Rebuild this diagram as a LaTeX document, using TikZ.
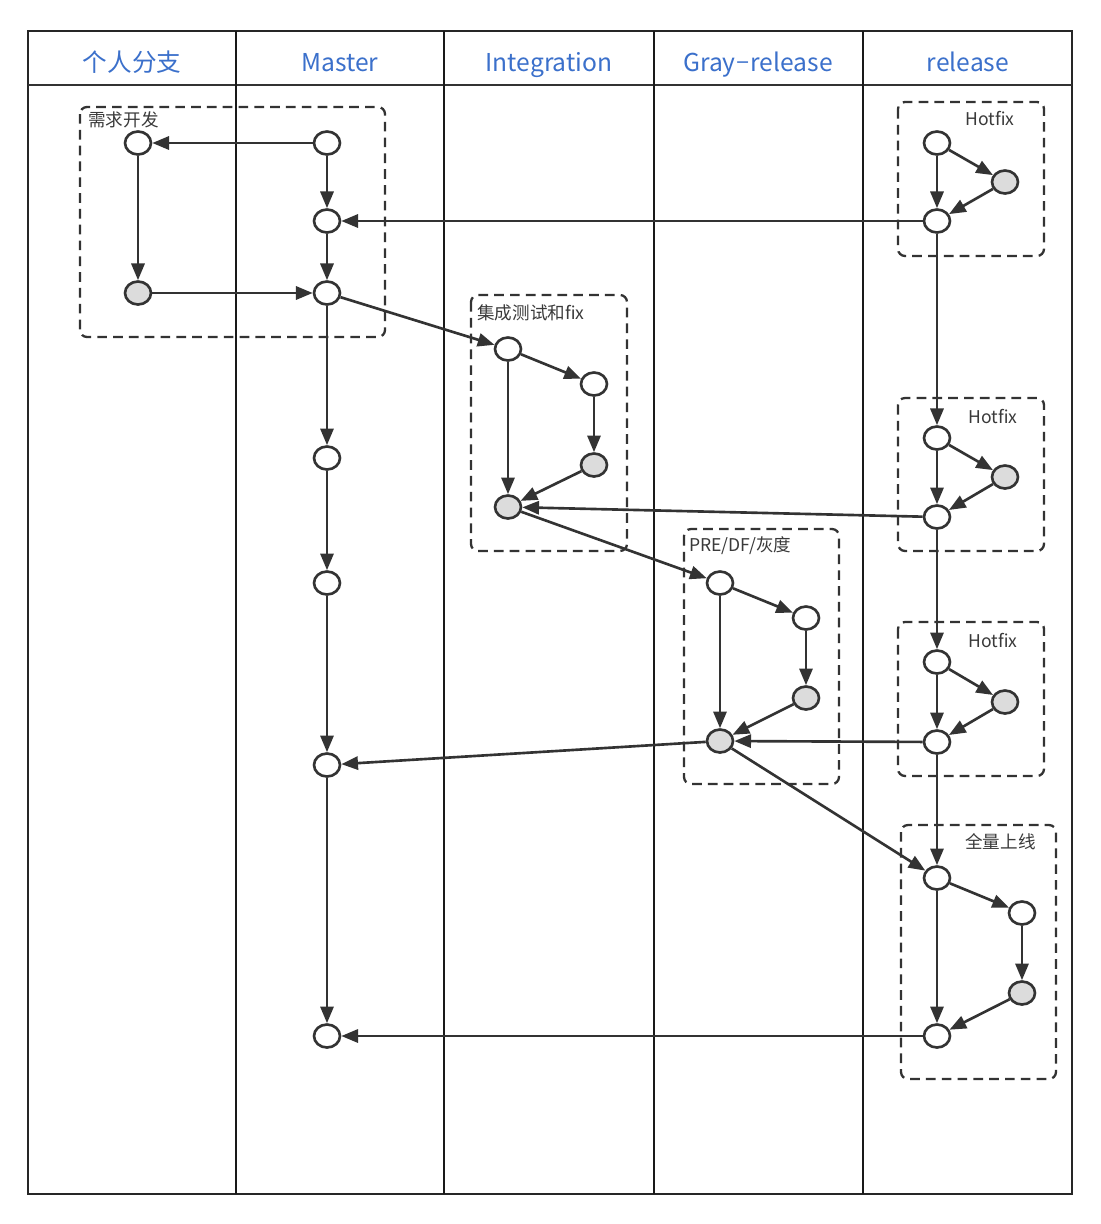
\documentclass[tikz,border=0pt]{standalone}
\usepackage{fontspec}
\newfontfamily\cjk{Noto Sans CJK SC}
\usepackage{xcolor}
\usepackage{tikz}
\usetikzlibrary{arrows.meta}
\usetikzlibrary{shapes.geometric}
\definecolor{headblue}{HTML}{3B70CB}
\definecolor{linegray}{HTML}{333333}
\definecolor{commitgray}{HTML}{DCDCDC}
\definecolor{labelgray}{HTML}{3A3A3A}
\tikzset{
  commit/.style={ellipse,draw=linegray,line width=1.5pt,fill=white,
    minimum width=0.52cm,minimum height=0.46cm,inner sep=0pt},
  fixed/.style={commit,fill=commitgray},
  flow/.style={draw=linegray,line width=1.5pt,-{Triangle[length=9.5pt,width=7.5pt]}},
  stagebox/.style={draw=linegray,line width=1.3pt,dash pattern=on 5.5pt off 3.5pt,rounded corners=4pt},
  stagelabel/.style={inner sep=0pt,font=\cjk\fontsize{10}{11}\selectfont,text=labelgray},
  lanehead/.style={inner sep=0pt,anchor=base,font=\cjk\fontsize{14}{15}\selectfont,text=headblue}
}
\begin{document}
\begin{tikzpicture}[x=0.02cm,y=-0.02cm]
 \fill[white] (0,0) rectangle (1100,1224);
 \useasboundingbox (0,0) rectangle (1100,1224);

 % lanes
 \draw[line width=0.9pt,black!85] (28,31) rectangle (1072,1194);
 \draw[line width=0.8pt,black!80] (28,85)--(1072,85);
 \foreach \x in {236,444,654,863}
  \draw[line width=1.2pt,black!90] (\x,31)--(\x,1194);
 \node at (132,71) [lanehead] (h1) {个人分支};
 \node at (340,71) [lanehead] (h2) {Master};
 \node at (549,71) [lanehead] (h3) {Integration};
 \node at (758,71) [lanehead] (h4) {Gray{\kern0.5pt}\raisebox{0.1ex}{–}{\kern0.5pt}release};
 \node at (968,71) [lanehead] (h5) {release};

 % stages
 \draw[stagebox] (80,107) rectangle (385,337);
 \draw[stagebox] (471,295) rectangle (627,551);
 \draw[stagebox] (684,529) rectangle (839,784);
 \draw[stagebox] (898,102) rectangle (1044,256);
 \draw[stagebox] (898,398) rectangle (1044,551);
 \draw[stagebox] (898,622) rectangle (1044,776);
 \draw[stagebox] (901,825) rectangle (1056,1079);
 \node at (88,120) [stagelabel,anchor=west] (s1) {需求开发};
 \node at (477,313) [stagelabel,anchor=west] (s2) {集成测试和fix};
 \node at (689,546) [stagelabel,anchor=west] (s3) {PRE/DF/灰度};
 \node at (1015,119) [stagelabel,anchor=east] (s4) {Hotfix};
 \node at (1018,416) [stagelabel,anchor=east] (s5) {Hotfix};
 \node at (1018,640) [stagelabel,anchor=east] (s6) {Hotfix};
 \node at (1036,842) [stagelabel,anchor=east] (s7) {全量上线};

 % commits
 \node at (138,143) [commit] (p1) {};
 \node at (138,293) [fixed] (p2) {};

 \node at (327,143) [commit] (m1) {};
 \node at (327,221) [commit] (m2) {};
 \node at (327,293) [commit] (m3) {};
 \node at (327,458) [commit] (m4) {};
 \node at (327,583) [commit] (m5) {};
 \node at (327,765) [commit] (m6) {};
 \node at (327,1036) [commit] (m7) {};

 \node at (508,349) [commit] (i1) {};
 \node at (594,384) [commit] (i2) {};
 \node at (594,465) [fixed] (i3) {};
 \node at (508,507) [fixed] (i4) {};

 \node at (720,583) [commit] (g1) {};
 \node at (806,618) [commit] (g2) {};
 \node at (806,698) [fixed] (g3) {};
 \node at (720,741) [fixed] (g4) {};

 \node at (937,143) [commit] (r1) {};
 \node at (1005,182) [fixed] (r2) {};
 \node at (937,221) [commit] (r3) {};
 \node at (937,438) [commit] (r4) {};
 \node at (1005,477) [fixed] (r5) {};
 \node at (937,517) [commit] (r6) {};
 \node at (937,662) [commit] (r7) {};
 \node at (1005,702) [fixed] (r8) {};
 \node at (937,742) [commit] (r9) {};
 \node at (937,878) [commit] (r10) {};
 \node at (1022,913) [commit] (r11) {};
 \node at (1022,993) [fixed] (r12) {};
 \node at (937,1036) [commit] (r13) {};

 % flows
 \draw[flow] (m1)--(p1);
 \draw[flow] (p1)--(p2);
 \draw[flow] (p2)--(m3);
 \draw[flow] (m1)--(m2);
 \draw[flow] (m2)--(m3);
 \draw[flow] (r3)--(m2);
 \draw[flow] (m3)--(i1);
 \draw[flow] (m3)--(m4);
 \draw[flow] (m4)--(m5);
 \draw[flow] (m5)--(m6);
 \draw[flow] (m6)--(m7);

 \draw[flow] (i1)--(i2);\draw[flow] (i2)--(i3);\draw[flow] (i3)--(i4);\draw[flow] (i1)--(i4);
 \draw[flow] (r6)--(i4);
 \draw[flow] (i4)--(g1);

 \draw[flow] (g1)--(g2);\draw[flow] (g2)--(g3);\draw[flow] (g3)--(g4);\draw[flow] (g1)--(g4);
 \draw[flow] (r9)--(g4);
 \draw[flow] (g4)--(m6);
 \draw[flow] (g4)--(r10);

 \draw[flow] (r1)--(r2);\draw[flow] (r2)--(r3);\draw[flow] (r1)--(r3);
 \draw[flow] (r3)--(r4);
 \draw[flow] (r4)--(r5);\draw[flow] (r5)--(r6);\draw[flow] (r4)--(r6);
 \draw[flow] (r6)--(r7);
 \draw[flow] (r7)--(r8);\draw[flow] (r8)--(r9);\draw[flow] (r7)--(r9);
 \draw[flow] (r9)--(r10);
 \draw[flow] (r10)--(r11);\draw[flow] (r11)--(r12);\draw[flow] (r12)--(r13);\draw[flow] (r10)--(r13);
 \draw[flow] (r13)--(m7);
\end{tikzpicture}
\end{document}
